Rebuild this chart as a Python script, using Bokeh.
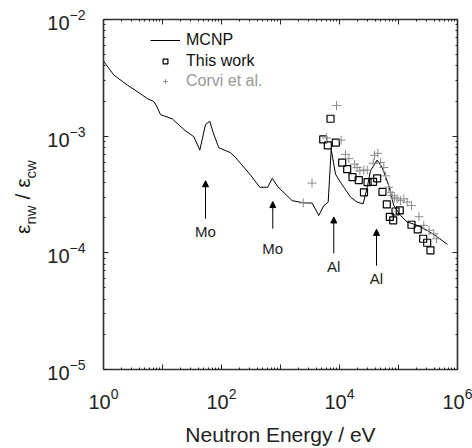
from bokeh.plotting import figure
from bokeh.layouts import row
from bokeh.models import (LogAxis, FixedTicker, LogTickFormatter, Legend, LegendItem, Div,
                          Arrow, NormalHead, ColumnDataSource, Range1d, CustomJSTickFormatter)
from bokeh.embed import file_html
from bokeh.resources import INLINE
from bokeh.core.properties import value

FONT = "Liberation Sans"

# ---------------- data ----------------
mcnp_energy = [1.0, 1.5, 2.52, 3.73, 5.63, 7.12, 7.91, 9.25, 14.6, 23.0, 34.0, 42.9, 53.6, 63.4,
               72.3, 90.0, 142, 173, 310, 446, 609, 723, 907, 1578, 2483, 3445, 4456, 5420, 6430,
               7230, 8550, 10400, 15400, 19900, 25200, 29500, 33500, 43500, 53000, 68500, 83200,
               108000, 140000, 208000, 306000, 453000, 677000]
mcnp_ratio = [4.40e-3, 3.34e-3, 2.75e-3, 2.41e-3, 2.09e-3, 1.98e-3, 1.82e-3, 1.53e-3, 1.41e-3,
              1.14e-3, 9.89e-4, 7.60e-4, 1.26e-3, 1.34e-3, 1.07e-3, 7.96e-4, 7.22e-4, 6.56e-4,
              4.64e-4, 3.65e-4, 3.65e-4, 4.35e-4, 3.67e-4, 2.80e-4, 2.68e-4, 2.67e-4, 2.09e-4,
              2.54e-4, 2.72e-4, 7.71e-4, 4.73e-4, 4.02e-4, 3.00e-4, 2.72e-4, 2.63e-4, 3.65e-4,
              5.05e-4, 6.25e-4, 5.39e-4, 3.76e-4, 2.54e-4, 2.09e-4, 1.84e-4, 1.72e-4, 1.56e-4,
              1.37e-4, 1.18e-4]

this_energy = [7040, 5300, 6340, 8650, 11100, 13500, 16600, 21200, 29900, 37000, 43500, 26000,
               53500, 63400, 71300, 81300, 89000, 105000, 166000, 212000, 262000, 306000, 348000]
this_ratio = [1.41e-3, 9.38e-4, 8.34e-4, 8.79e-4, 5.94e-4, 5.21e-4, 4.46e-4, 4.20e-4, 4.04e-4,
              4.06e-4, 4.35e-4, 3.30e-4, 3.33e-4, 2.60e-4, 2.03e-4, 1.90e-4, 2.26e-4, 2.31e-4,
              1.74e-4, 1.59e-4, 1.32e-4, 1.22e-4, 1.05e-4]

corvi_energy = [8900, 6020, 10700, 3420, 2430, 12600, 14400, 18000, 19900, 22100, 25800, 29500,
                37300, 39200, 44600, 49500, 56300, 60200, 68500, 73200, 78200, 85600, 95000,
                108000, 123000, 140000, 166000, 222000, 268000, 329000, 396000, 441000]
corvi_ratio = [1.83e-3, 9.66e-4, 9.25e-4, 3.96e-4, 2.68e-4, 6.98e-4, 6.42e-4, 5.75e-4, 5.39e-4,
               5.05e-4, 5.12e-4, 5.12e-4, 5.86e-4, 6.85e-4, 7.13e-4, 5.94e-4, 5.39e-4, 4.57e-4,
               3.65e-4, 3.30e-4, 3.09e-4, 2.96e-4, 2.90e-4, 2.80e-4, 2.90e-4, 2.72e-4, 2.54e-4,
               2.04e-4, 1.72e-4, 1.56e-4, 1.46e-4, 1.32e-4]

arrow_energy = [53.6, 740, 8000, 42400]
arrow_tip = [4.15e-4, 2.75e-4, 2.03e-4, 1.59e-4]
arrow_tail = [1.96e-4, 1.61e-4, 9.88e-5, 7.77e-5]
arrow_label_y = [1.53e-4, 1.10e-4, 7.57e-5, 6.07e-5]
arrow_labels = ["Mo", "Mo", "Al", "Al"]

x_decades = [1, 10, 100, 1000, 1e4, 1e5, 1e6]
x_blank = [10, 1000, 1e5]
y_decades = [1e-5, 1e-4, 1e-3, 1e-2]

# ---------------- figure ----------------
LABEL_W = 40
p = figure(width=472 - LABEL_W, height=448, x_axis_type="log", y_axis_type="log",
           x_range=Range1d(1, 1e6), y_range=Range1d(1e-5, 1e-2),
           output_backend="svg", toolbar_location=None,
           min_border_left=103 - LABEL_W, min_border_right=15, min_border_top=19,
           min_border_bottom=76)
p.xgrid.visible = False
p.ygrid.visible = False
p.outline_line_color = "#333333"
p.outline_line_width = 1.2
p.background_fill_color = "white"
p.border_fill_color = "white"


def minors(decades):
    out = []
    for d in decades[:-1]:
        for k in range(2, 10):
            out.append(d * k)
    return out


xt = FixedTicker(ticks=x_decades, minor_ticks=minors(x_decades))
yt = FixedTicker(ticks=y_decades, minor_ticks=minors(y_decades))


def style(ax):
    ax.major_tick_in = 5
    ax.major_tick_out = 0
    ax.minor_tick_in = 2
    ax.minor_tick_out = 0
    ax.major_tick_line_color = "#222222"
    ax.minor_tick_line_color = "#222222"
    ax.axis_line_color = "#333333"
    ax.axis_line_width = 1.5
    ax.major_label_text_font = FONT
    ax.major_label_text_font_size = "20px"
    ax.major_label_text_color = "#222222"


xa = p.xaxis[0]
xa.ticker = xt
xa.formatter = LogTickFormatter()
xa.major_label_overrides = {v: "" for v in x_blank}
style(xa)
xa.major_label_standoff = 18
xa.axis_label = "Neutron Energy / eV"
xa.axis_label_text_font = FONT
xa.axis_label_text_font_size = "21px"
xa.axis_label_text_font_style = "normal"
xa.axis_label_text_color = "#222222"
xa.axis_label_standoff = 11

ya = p.yaxis[0]
ya.ticker = yt
ya.formatter = LogTickFormatter()
style(ya)
ya.major_label_standoff = 18

blank = CustomJSTickFormatter(code="return ''")
top = LogAxis(ticker=FixedTicker(ticks=x_decades, minor_ticks=minors(x_decades)), formatter=blank)
right = LogAxis(ticker=FixedTicker(ticks=y_decades, minor_ticks=minors(y_decades)), formatter=blank)
for ax in (top, right):
    style(ax)
    ax.major_label_standoff = 0
    ax.major_label_text_font_size = "1px"
p.add_layout(top, "above")
p.add_layout(right, "right")

# ---------------- data glyphs ----------------
r_line = p.line(mcnp_energy, mcnp_ratio, line_color="black", line_width=1)
r_sq = p.scatter(this_energy, this_ratio, marker="square", size=7, fill_color="white",
                 fill_alpha=0, line_color="black", line_width=1.2)
r_cr = p.scatter(corvi_energy, corvi_ratio, marker="cross", size=9, line_color="#8c8c8c",
                 line_width=1)

# ---------------- arrows ----------------
asrc = ColumnDataSource(dict(x=arrow_energy, y0=arrow_tail, y1=arrow_tip,
                             ly=arrow_label_y, lab=arrow_labels))
p.add_layout(Arrow(end=NormalHead(size=6, fill_color="black", line_color="black", line_width=1),
                   x_start="x", y_start="y0", x_end="x", y_end="y1", source=asrc,
                   line_color="black", line_width=1))
p.text(x="x", y="ly", text="lab", source=asrc, text_align="center", text_baseline="middle",
       text_font=value(FONT), text_font_size="15px", text_color="#222222")

# ---------------- legends (one per row) ----------------
def mk_legend(item, loc, color):
    lg = Legend(items=[item], location=loc, padding=0, margin=0, spacing=0,
                border_line_alpha=0, background_fill_alpha=0,
                glyph_width=30, glyph_height=12, label_height=16, label_standoff=6,
                label_text_font=FONT, label_text_font_size="16px", label_text_color=color)
    p.add_layout(lg)

mk_legend(LegendItem(label="MCNP", renderers=[r_line]), (47, 320), "#111111")
mk_legend(LegendItem(label="This work", renderers=[r_sq]), (47, 299), "#111111")
mk_legend(LegendItem(label="Corvi et al.", renderers=[r_cr]), (47, 279), "#999999")

# ---------------- y axis label (rotated, with subscripts) ----------------
y_label_html = (
    '<div style="position:relative;width:%dpx;height:448px;">'
    '<div style="position:absolute;left:%dpx;top:197px;'
    'transform:translate(-50%%,-50%%) rotate(-90deg);white-space:nowrap;'
    "font-family:'Liberation Sans',Arial,sans-serif;font-size:21px;color:#222222;"
    'line-height:1;">'
    'ε<sub style="font-size:15px;">nw</sub>&nbsp;/&nbsp;ε<sub style="font-size:15px;">cw</sub>'
    '</div></div>' % (LABEL_W, 25)
)
ydiv = Div(text=y_label_html, width=LABEL_W, height=448, margin=0)

layout = row(ydiv, p, spacing=0)
open("out.html", "w").write(file_html(layout, INLINE))
